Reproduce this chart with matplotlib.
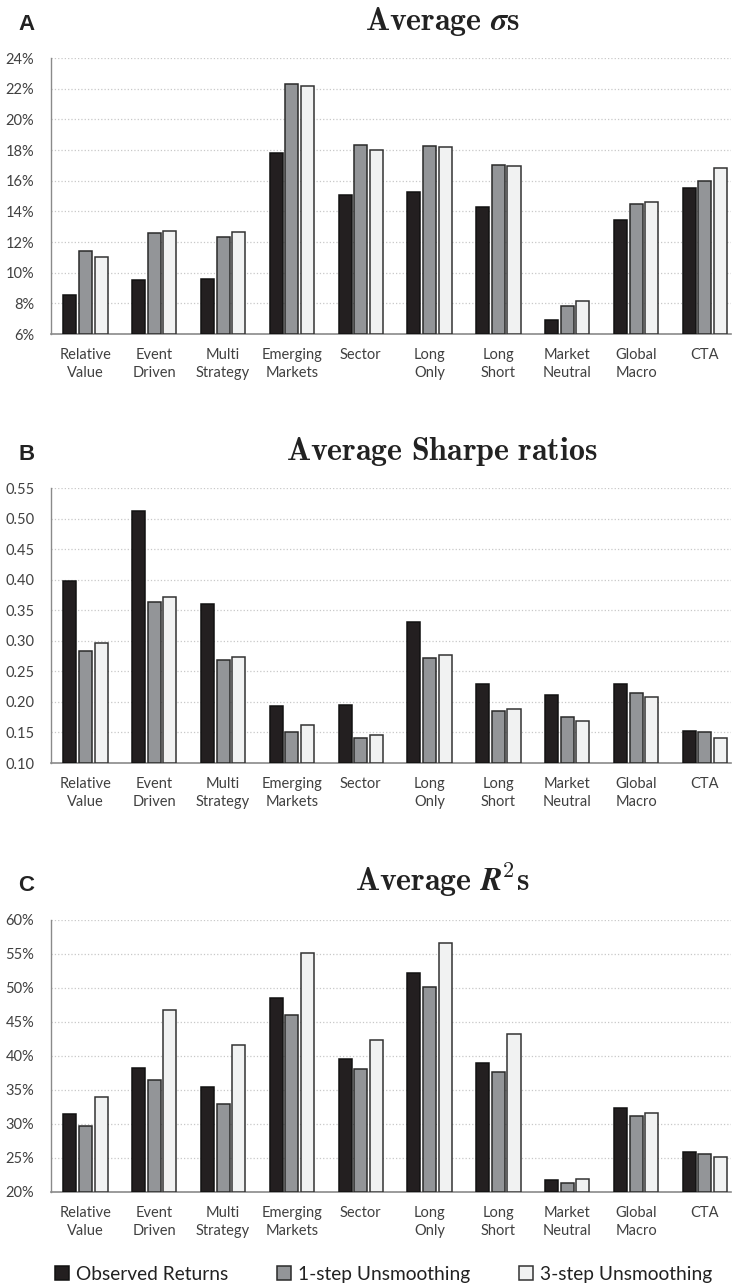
import numpy as np
import matplotlib
matplotlib.use("Agg")
import matplotlib.pyplot as plt
from matplotlib.ticker import FuncFormatter

plt.rcParams['font.family'] = ['Lato', 'DejaVu Sans']
plt.rcParams['mathtext.fontset'] = 'cm'

# categories
categories = ["Relative\nValue", "Event\nDriven", "Multi\nStrategy", "Emerging\nMarkets",
              "Sector", "Long\nOnly", "Long\nShort", "Market\nNeutral", "Global\nMacro", "CTA"]
series_names = ["Observed Returns", "1-step Unsmoothing", "3-step Unsmoothing"]

# panel A : average sigmas (%)
sigma_obs = [8.55, 9.5, 9.57, 17.8, 15.08, 15.28, 14.26, 6.94, 13.43, 15.52]
sigma_1 = [11.4, 12.6, 12.3, 22.3, 18.3, 18.27, 17.0, 7.83, 14.47, 15.96]
sigma_3 = [11.05, 12.7, 12.67, 22.2, 18.0, 18.2, 16.96, 8.18, 14.6, 16.83]

# panel B : average Sharpe ratios
sharpe_obs = [0.398, 0.512, 0.361, 0.194, 0.195, 0.331, 0.229, 0.211, 0.230, 0.152]
sharpe_1 = [0.283, 0.363, 0.268, 0.151, 0.141, 0.272, 0.185, 0.175, 0.215, 0.150]
sharpe_3 = [0.296, 0.371, 0.273, 0.162, 0.146, 0.276, 0.188, 0.168, 0.208, 0.141]

# panel C : average R2 (%)
r2_obs = [31.4, 38.2, 35.4, 48.47, 39.6, 52.25, 38.9, 21.7, 32.4, 25.94]
r2_1 = [29.77, 36.4, 32.9, 46.0, 38.1, 50.18, 37.67, 21.37, 31.14, 25.6]
r2_3 = [33.99, 46.75, 41.55, 55.1, 42.33, 56.6, 43.26, 21.96, 31.63, 25.15]

fills = ['#231f20', '#939598', '#f1f2f2']
edges = ['#111111', '#2a2a2a', '#333333']

fig = plt.figure(figsize=(7.32, 12.85), dpi=100)

panels = [
    ("A", r'$\mathbf{Average}\ \boldsymbol{\sigma}\mathbf{s}$', [sigma_obs, sigma_1, sigma_3],
     (6, 24), np.arange(6, 25, 2), lambda v, p: f"{v:.0f}%",
     [0.0697, 0.740, 0.929, 0.2148], 30),
    ("B", r'$\mathbf{Average\ Sharpe\ ratios}$', [sharpe_obs, sharpe_1, sharpe_3],
     (0.10, 0.55), np.arange(0.10, 0.551, 0.05), lambda v, p: f"{v:.2f}",
     [0.0697, 0.4062, 0.929, 0.214], 460),
    ("C", r'$\mathbf{Average}\ \boldsymbol{R}^{\mathbf{2}}\mathbf{s}$', [r2_obs, r2_1, r2_3],
     (20, 60), np.arange(20, 61, 5), lambda v, p: f"{v:.0f}%",
     [0.0697, 0.0724, 0.929, 0.2117], 891),
]

x = np.arange(len(categories))
step = 0.227
width = 0.19
H = 1285.0

handles = []
for letter, title, data, ylim, yticks, fmt, rect, base_y in panels:
    ax = fig.add_axes(rect)
    for i, vals in enumerate(data):
        vals = np.array(vals)
        b = ax.bar(x + (i - 1) * step, vals - ylim[0], width, bottom=ylim[0],
                   color=fills[i], edgecolor=edges[i], linewidth=1.1, zorder=3,
                   label=series_names[i])
        if letter == "A":
            handles.append(b)
    ax.set_xlim(-0.5, 9.38)
    ax.set_ylim(*ylim)
    ax.set_yticks(yticks)
    ax.yaxis.set_major_formatter(FuncFormatter(fmt))
    ax.set_xticks(x)
    ax.set_xticklabels(categories, linespacing=1.35)
    ax.tick_params(axis='both', length=0, labelsize=10.5, labelcolor='#404040')
    ax.tick_params(axis='y', pad=12)
    ax.tick_params(axis='x', pad=10)
    ax.grid(axis='y', linestyle=':', color='#c8c8c8', linewidth=0.9, zorder=0)
    for s in ['top', 'right']:
        ax.spines[s].set_visible(False)
    ax.spines['left'].set_color('#8a8a8a')
    ax.spines['bottom'].set_color('#8a8a8a')
    ax.spines['left'].set_linewidth(1.0)
    ax.spines['bottom'].set_linewidth(1.2)

    fig.text(0.604, 1 - base_y / H, title, ha='center', va='baseline', fontsize=23, color='#222222')
    fig.text(0.025, 1 - base_y / H, letter, ha='left', va='baseline', fontsize=16,
             fontweight='bold', family='Liberation Sans', color='#222222')

leg = fig.legend(handles=handles, labels=series_names, loc='center', ncol=3,
                 bbox_to_anchor=(0.524, 0.0085), frameon=False, fontsize=13.8,
                 handlelength=0.75, handleheight=0.75, handletextpad=0.35,
                 columnspacing=2.55, labelcolor='#222222')

fig.savefig("out.png", dpi=100)
